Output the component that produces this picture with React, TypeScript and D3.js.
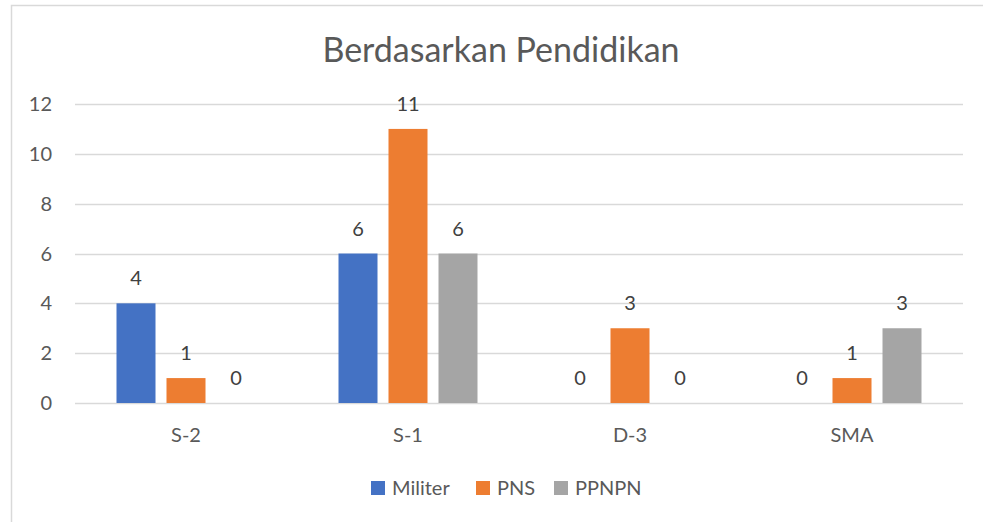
import React, { useEffect, useRef } from 'react';
import * as d3 from 'd3';

const categories = ['S-2', 'S-1', 'D-3', 'SMA'];
const seriesNames = ['Militer', 'PNS', 'PPNPN'];
const militer = [4, 6, 0, 0];
const pns = [1, 11, 3, 1];
const ppnpn = [0, 6, 0, 3];
const yTicks = [0, 2, 4, 6, 8, 10, 12];
const colors = ['#4472c4', '#ed7d31', '#a5a5a5'];

const W = 983;
const H = 522;

const App = () => {
  const ref = useRef<SVGSVGElement>(null);

  useEffect(() => {
    const svg = d3.select(ref.current);
    svg.selectAll('*').remove();
    const font = 'Lato, "Open Sans", sans-serif';
    const fs = '20px';

    // chart frame
    svg.append('rect')
      .attr('x', 11.5).attr('y', 5.5)
      .attr('width', 990).attr('height', 530)
      .attr('fill', '#fff')
      .attr('stroke', '#d9d9d9')
      .attr('stroke-width', 1.5);

    const left = 75, right = 963, top = 104, bottom = 403;

    const x = d3.scaleBand().domain(categories).range([left, right]);
    const x1 = d3.scaleBand().domain(seriesNames).range([0, x.bandwidth()])
      .paddingInner(0.22).paddingOuter(0.83);
    const y = d3.scaleLinear().domain([0, 12]).range([bottom, top]);

    // grid
    svg.append('g').selectAll('line')
      .data(yTicks)
      .enter().append('line')
      .attr('x1', left).attr('x2', right)
      .attr('y1', d => Math.round(y(d)) + 0.5)
      .attr('y2', d => Math.round(y(d)) + 0.5)
      .attr('stroke', '#d9d9d9')
      .attr('stroke-width', 1.3);

    // y labels
    svg.append('g').selectAll('text')
      .data(yTicks)
      .enter().append('text')
      .attr('x', 52)
      .attr('y', d => y(d) + 7)
      .attr('text-anchor', 'end')
      .attr('fill', '#595959')
      .style('font-family', font)
      .style('font-size', fs)
      .text(d => d);

    // x labels
    svg.append('g').selectAll('text')
      .data(categories)
      .enter().append('text')
      .attr('x', d => (x(d) as number) + x.bandwidth() / 2)
      .attr('y', 442)
      .attr('text-anchor', 'middle')
      .attr('fill', '#595959')
      .style('font-family', font)
      .style('font-size', fs)
      .text(d => d);

    const series = [militer, pns, ppnpn];
    const rows = categories.flatMap((c, i) =>
      seriesNames.map((s, j) => ({ c, s, j, v: series[j][i] })));

    const bars = svg.append('g');
    bars.selectAll('rect')
      .data(rows)
      .enter().append('rect')
      .attr('x', d => (x(d.c) as number) + (x1(d.s) as number))
      .attr('y', d => y(d.v))
      .attr('width', x1.bandwidth())
      .attr('height', d => y(0) - y(d.v))
      .attr('fill', d => colors[d.j]);

    bars.selectAll('text')
      .data(rows)
      .enter().append('text')
      .attr('x', d => (x(d.c) as number) + (x1(d.s) as number) + x1.bandwidth() / 2)
      .attr('y', d => y(d.v) - 18)
      .attr('text-anchor', 'middle')
      .attr('fill', '#404040')
      .style('font-family', font)
      .style('font-size', fs)
      .text(d => d.v);

    // title
    svg.append('text')
      .attr('x', 501)
      .attr('y', 62)
      .attr('text-anchor', 'middle')
      .attr('fill', '#595959')
      .style('font-family', font)
      .style('font-size', '34px')
      .text('Berdasarkan Pendidikan');

    // legend
    const legendX = [371, 476, 554];
    const lg = svg.append('g').selectAll('g')
      .data(seriesNames)
      .enter().append('g')
      .attr('transform', (d, i) => `translate(${legendX[i]}, 481)`);
    lg.append('rect')
      .attr('width', 14).attr('height', 14)
      .attr('fill', (d, i) => colors[i]);
    lg.append('text')
      .attr('x', 21).attr('y', 14)
      .attr('fill', '#595959')
      .style('font-family', font)
      .style('font-size', fs)
      .text(d => d);
  }, []);

  return (
    <svg ref={ref} width={W} height={H}
      style={{ position: 'absolute', left: 0, top: 0, display: 'block' }} />
  );
};

export default App;
